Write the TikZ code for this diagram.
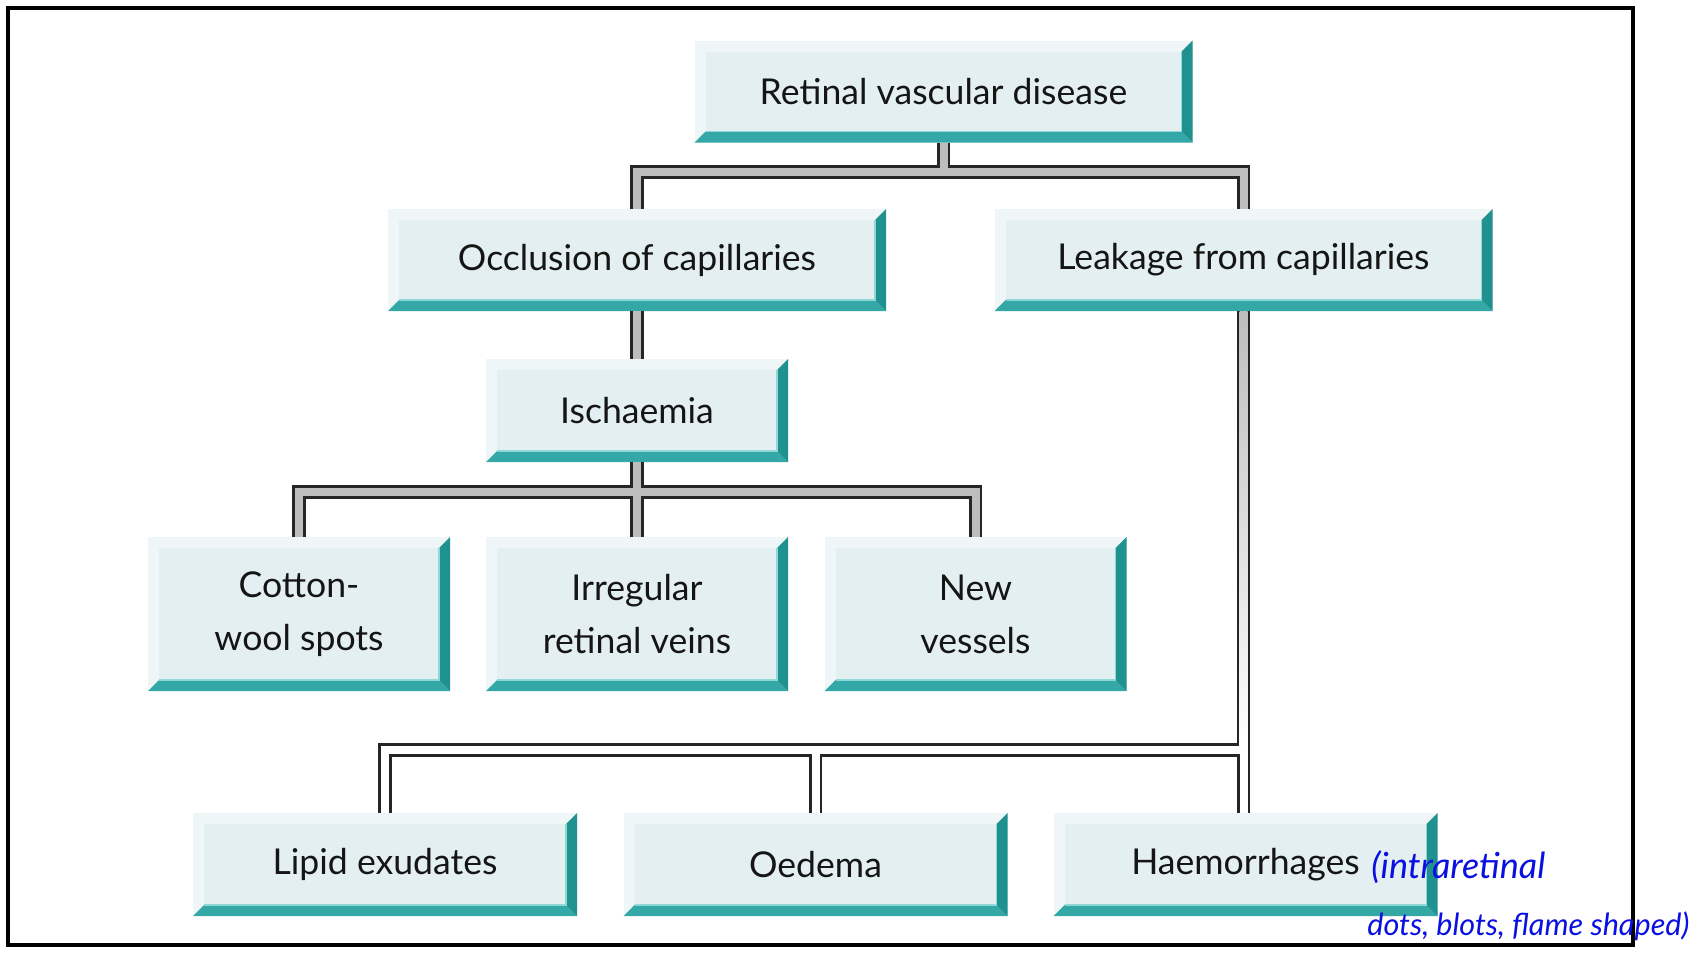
\documentclass[tikz,border=0pt]{standalone}
\usepackage{fontspec}
\setmainfont{Lato}
\usetikzlibrary{calc}
\definecolor{face}{HTML}{E4EFF1}
\definecolor{bvlight}{HTML}{EFF6F7}
\definecolor{bvbot}{HTML}{33A8A6}
\definecolor{bvright}{HTML}{1F918F}
\definecolor{hilite}{HTML}{8ED8D8}
\definecolor{cgray}{HTML}{BDBDBD}
\definecolor{txt}{HTML}{151515}
\definecolor{pen}{HTML}{0A10E0}
\newcommand{\bvw}{5.5pt}
\tikzset{
  bbox/.style={rectangle, inner sep=0pt, fill=bvlight, text=txt, align=center,
    font=\fontsize{17.8}{26.5}\selectfont,
    path picture={
      \coordinate (SW) at (path picture bounding box.south west);
      \coordinate (NE) at (path picture bounding box.north east);
      \fill[face] ([shift={(\bvw,\bvw)}]SW) rectangle ([shift={(-\bvw,-\bvw)}]NE);
      \fill[bvbot] (SW) -- (SW -| NE) -- ([shift={(-\bvw,\bvw)}]SW -| NE) -- ([shift={(\bvw,\bvw)}]SW) -- cycle;
      \fill[bvright] (NE) -- (SW -| NE) -- ([shift={(-\bvw,\bvw)}]SW -| NE) -- ([shift={(-\bvw,-\bvw)}]NE) -- cycle;
      \draw[hilite, line width=0.7pt] ([shift={(\bvw,\bvw)}]SW) -- ([shift={(-\bvw,\bvw)}]SW -| NE) -- ([shift={(-\bvw,-\bvw)}]NE);
    }},
  wide/.style={bbox, minimum width=249pt, minimum height=51pt},
  mid/.style={bbox, minimum width=151pt, minimum height=51.5pt},
  tall/.style={bbox, minimum width=151pt, minimum height=77pt},
  low/.style={bbox, minimum width=192pt, minimum height=51.5pt},
  cblack/.style={draw=black!85, line width=6.75pt, line join=miter},
  cgrayin/.style={draw=cgray, line width=4pt},
  cwhite/.style={draw=white, line width=4pt},
  pennote/.style={anchor=base west, text=pen, inner sep=0pt}
}
\begin{document}
\begin{tikzpicture}[x=0.5pt,y=-0.5pt]
\fill[white] (0,0) rectangle (1704,960);
\useasboundingbox (0,0) rectangle (1704,960);
\draw[line width=1.6pt] (8,8) rectangle (1633,945);

\node[wide] (ret) at (943.5,91.5) {Retinal vascular disease};
\node[wide] (occ) at (637,260) {Occlusion of capillaries};
\node[wide] (leak) at (1243.5,260) {Leakage from capillaries};
\node[mid] (isch) at (637,410.5) {Ischaemia};
\node[tall] (cot) at (299,614) {Cotton-\\wool spots};
\node[tall] (irr) at (637,614) {Irregular\\retinal veins};
\node[tall] (newv) at (975.5,614) {New\\vessels};
\node[low] (lip) at (385,864.5) {Lipid exudates};
\node[low] (oed) at (815.5,864.5) {Oedema};
\node[low] (haem) at (1245.5,864.5) {Haemorrhages};

\coordinate (y1) at (0,172);
\coordinate (y2) at (0,492);
\coordinate (y3) at (0,750);

% outlines
\draw[cblack] (occ.north) |- (y1 -| leak.north) -- (leak.north);
\draw[cblack] (ret.south) -- (ret.south |- y1);
\draw[cblack] (occ.south) -- (isch.north);
\draw[cblack] (cot.north) |- (y2 -| newv.north) -- (newv.north);
\draw[cblack] (isch.south) -- (irr.north);
\draw[cblack] (leak.south) -- (leak.south |- haem.north);
\draw[cblack] (lip.north) |- (y3 -| leak.south);
\draw[cblack] (oed.north) -- (oed.north |- y3);
% interiors
\draw[cgrayin] (occ.north) |- (y1 -| leak.north) -- (leak.north);
\draw[cgrayin] (ret.south) -- (ret.south |- y1);
\draw[cgrayin] (occ.south) -- (isch.north);
\draw[cgrayin] (cot.north) |- (y2 -| newv.north) -- (newv.north);
\draw[cgrayin] (isch.south) -- (irr.north);
\shade[top color=cgray, bottom color=white] ($(leak.south)+(-4,0)$) rectangle ($(leak.south |- y3)+(4,0)$);
\draw[cwhite] (leak.south |- y3) -- (leak.south |- haem.north);
\draw[cwhite] (lip.north) |- (y3 -| leak.south);
\draw[cwhite] (oed.north) -- (oed.north |- y3);

\node[pennote, font=\fontsize{18}{20}\selectfont\itshape] (note1) at (1371,878) {(intraretinal};
\node[pennote, font=\fontsize{15.3}{20}\selectfont\itshape] (note2) at (1367,935) {dots, blots, flame shaped)};
\end{tikzpicture}
\end{document}
